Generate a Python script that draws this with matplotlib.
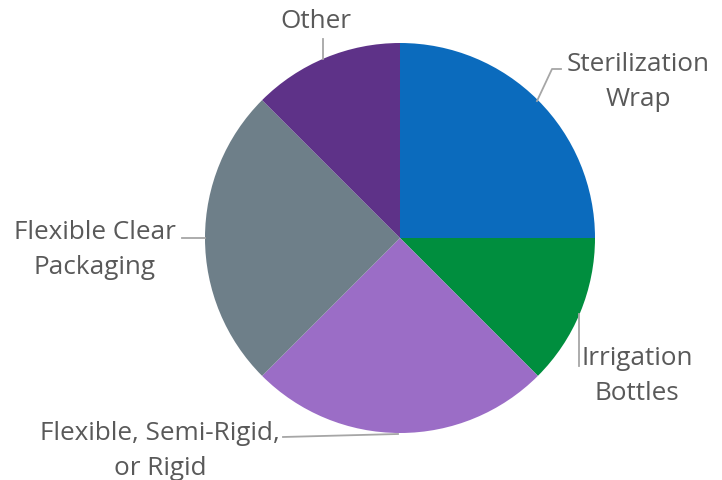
import matplotlib
matplotlib.use('Agg')
import matplotlib.pyplot as plt

categorias = ['Sterilization Wrap', 'Irrigation Bottles', 'Flexible, Semi-Rigid, or Rigid',
              'Flexible Clear Packaging', 'Other']
valores = [25, 12.5, 25, 25, 12.5]
cores = ['#0B6BBD', '#008E3E', '#9B6DC6', '#6E7F89', '#5E3288']

rotulos = ['Sterilization\nWrap', 'Irrigation\nBottles', 'Flexible, Semi-Rigid,\nor Rigid',
           'Flexible Clear\nPackaging', 'Other']

plt.rcParams['font.family'] = ['Open Sans', 'DejaVu Sans']

fig = plt.figure(figsize=(7.22, 4.81), dpi=100)
ax = fig.add_axes([0, 0, 1, 1])

# pie in pixel space (y flipped, so counterclock=True draws clockwise on screen)
ax.pie(valores, colors=cores, startangle=-90, counterclock=True,
       center=(400, 239), radius=195, frame=True)
ax.set_xlim(0, 722)
ax.set_ylim(481, 0)
ax.set_aspect('equal')
ax.axis('off')

cor_texto = '#595959'
cor_linha = '#A6A6A6'
fs = 18.8

# leader lines
ax.plot([537, 552, 561], [102, 70, 70], color=cor_linha, lw=1.3)
ax.plot([579, 579], [315, 367], color=cor_linha, lw=1.3)
ax.plot([182, 205], [239, 239], color=cor_linha, lw=1.3)
ax.plot([283, 398], [438, 435], color=cor_linha, lw=1.3)
ax.plot([323, 323], [40, 60], color=cor_linha, lw=1.3)

pos = [(638, 82), (637, 376), (160, 451), (95, 250), (316, 22)]
for (x, y), txt in zip(pos, rotulos):
    ax.text(x, y, txt, ha='center', va='center', fontsize=fs, color=cor_texto,
            linespacing=1.55)

fig.savefig('out.png', dpi=100)
